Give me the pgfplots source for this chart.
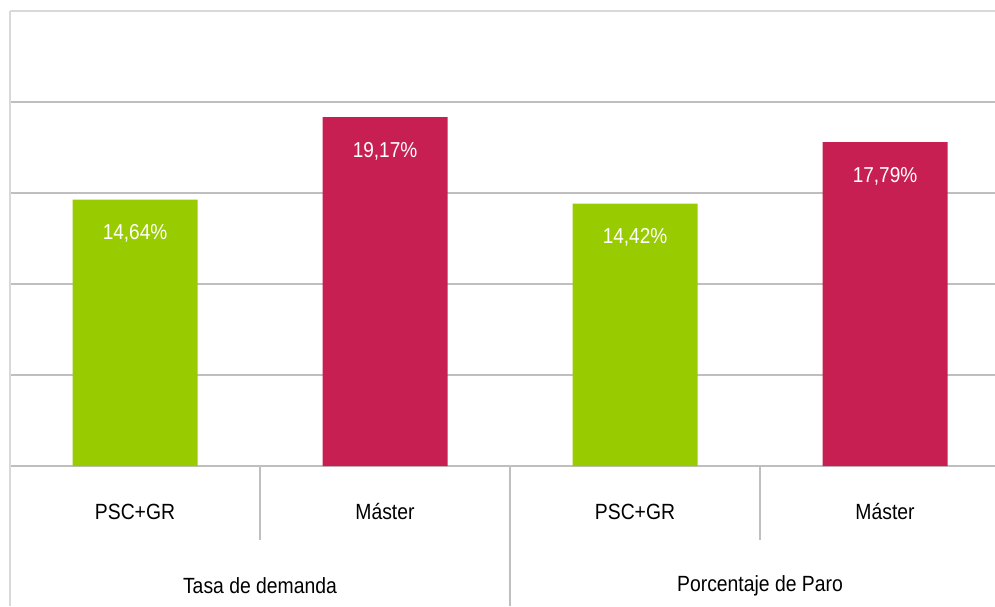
\documentclass[border=0pt]{standalone}
\usepackage{pgfplots}
\pgfplotsset{compat=1.18}
\usepackage{fontspec}
\setmainfont{Liberation Sans}[FakeStretch=0.88]
\definecolor{mygreen}{HTML}{99CC00}
\definecolor{myred}{HTML}{C81F52}
\definecolor{gridgray}{HTML}{BFBFBF}
\definecolor{bordergray}{HTML}{D9D9D9}
\begin{document}
\begin{tikzpicture}
\useasboundingbox (-5pt,-70pt) rectangle (492.5pt,233pt);
\clip (-5pt,-70pt) rectangle (492.5pt,233pt);
\begin{axis}[
  at={(0,0)}, anchor=south west,
  scale only axis, width=500pt, height=227.5pt,
  xmin=-0.5, xmax=3.5, ymin=0, ymax=25,
  axis line style={draw=none},
  tick style={draw=none},
  ytick={0,5,10,15,20},
  yticklabels={},
  ymajorgrids,
  grid style={draw=gridgray, line width=1pt},
  xtick={0,1,2,3},
  xticklabels={PSC+GR, Máster, PSC+GR, Máster},
  xticklabel style={font=\fontsize{11}{13}\selectfont, anchor=center, yshift=-18.5pt},
  clip=false,
  ybar, bar width=62.5pt, bar shift=0pt,
  point meta=explicit symbolic,
  nodes near coords={\pgfplotspointmeta\%},
  every node near coord/.append style={anchor=center, yshift=-17pt, text=white, font=\fontsize{10.8}{12}\selectfont},
]
\addplot[fill=mygreen, draw=none] table[x=x, y=y, meta=lab] {
x y lab
0 14.64 14,64
2 14.42 14,42
};
\addplot[fill=myred, draw=none] table[x=x, y=y, meta=lab] {
x y lab
1 19.17 19,17
3 17.79 17,79
};
\draw[bordergray, line width=1pt] (axis cs:-0.5,25) -- (axis cs:3.5,25);
\draw[bordergray, line width=1pt] (axis cs:-0.5,25) -- ([yshift=-70pt]axis cs:-0.5,0);
\draw[gridgray, line width=1pt] (axis cs:0.5,0) -- ([yshift=-37pt]axis cs:0.5,0);
\draw[gridgray, line width=1pt] (axis cs:2.5,0) -- ([yshift=-37pt]axis cs:2.5,0);
\draw[gridgray, line width=1pt] (axis cs:1.5,0) -- ([yshift=-70pt]axis cs:1.5,0);
\node[font=\fontsize{11}{13}\selectfont] at ([yshift=-60pt]axis cs:0.5,0) {Tasa de demanda};
\node[font=\fontsize{11}{13}\selectfont] at ([yshift=-60pt]axis cs:2.5,0) {Porcentaje de Paro};
\end{axis}
\end{tikzpicture}
\end{document}
